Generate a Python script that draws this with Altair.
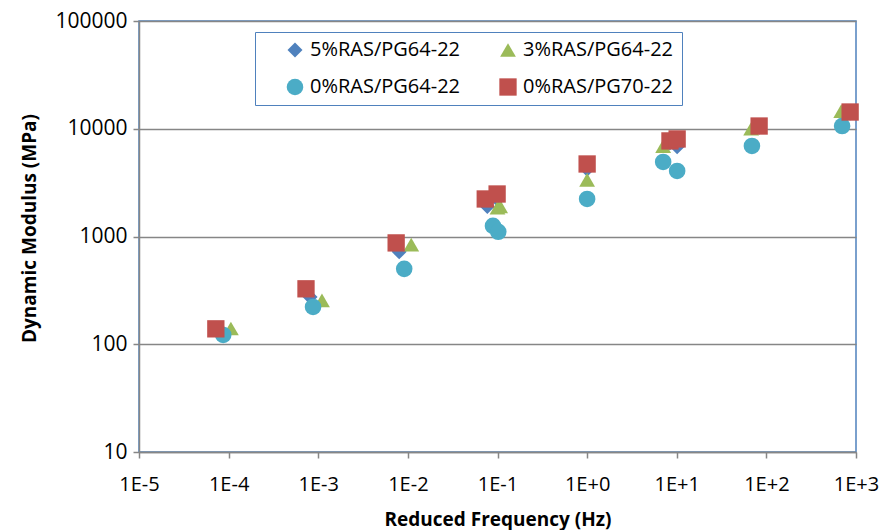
import altair as alt
import pandas as pd

series_names = ["5%RAS/PG64-22", "3%RAS/PG64-22", "0%RAS/PG64-22", "0%RAS/PG70-22"]
series_colors = ["#4F81BD", "#9BBB59", "#4BACC6", "#C0504D"]
series_shapes = ["diamond", "triangle-up", "circle", "square"]
series_sizes = [225, 300, 196, 289]

# 5%RAS/PG64-22 (diamond)
freq_5ras = [8.3e-5, 8.1e-4, 8.0e-3, 0.077, 0.1, 1.0, 8.4, 10.1, 83, 860]
mod_5ras = [132, 275, 720, 1900, 2200, 4200, 7400, 6800, 10300, 14000]
# 3%RAS/PG64-22 (triangle)
freq_3ras = [1.06e-4, 1.1e-3, 1.09e-2, 0.1, 0.107, 1.0, 7.05, 9.5, 67.6, 684]
mod_3ras = [140, 255, 840, 1850, 1900, 3350, 6900, 7900, 10000, 14600]
# 0%RAS/PG64-22 (circle)
freq_0ras64 = [8.7e-5, 8.75e-4, 9.1e-3, 0.089, 0.102, 1.0, 7.05, 10.1, 69, 700]
mod_0ras64 = [122, 222, 501, 1254, 1105, 2230, 4920, 4060, 6920, 10600]
# 0%RAS/PG70-22 (square)
freq_0ras70 = [7.2e-5, 7.3e-4, 7.4e-3, 0.073, 0.099, 1.0, 8.4, 10.1, 83, 860]
mod_0ras70 = [139, 327, 872, 2230, 2480, 4710, 7710, 8040, 10600, 14300]

x_ticks = [1e-5, 1e-4, 1e-3, 1e-2, 1e-1, 1e0, 1e1, 1e2, 1e3]
y_ticks = [10, 100, 1000, 10000, 100000]

rows = []
for name, fs, ms in zip(series_names,
                        [freq_5ras, freq_3ras, freq_0ras64, freq_0ras70],
                        [mod_5ras, mod_3ras, mod_0ras64, mod_0ras70]):
    for f, m in zip(fs, ms):
        rows.append({"series": name, "freq": f, "modulus": m})
df = pd.DataFrame(rows)

FONT = "Open Sans"
GRAY = "#868686"
EXP = "round(log(datum.value)/LN10)"

chart = alt.Chart(df).mark_point(filled=True, opacity=1).encode(
    x=alt.X("freq:Q",
            scale=alt.Scale(type="log", domain=[1e-5, 1e3], nice=False),
            axis=alt.Axis(values=x_ticks,
                          labelExpr=f"'1E' + ({EXP} >= 0 ? '+' + {EXP} : '-' + abs({EXP}))",
                          grid=False, tickSize=6, labelPadding=16,
                          labelFontSize=20, labelFont=FONT, labelColor="black",
                          title="Reduced Frequency (Hz)", titleFont=FONT, titleFontSize=19,
                          titleFontWeight="bold", titleColor="black",
                          titleY=67, titleBaseline="middle",
                          domainColor=GRAY, domainWidth=1.5, tickColor=GRAY, tickWidth=1.5,
                          labelFlush=False, labelOverlap=False)),
    y=alt.Y("modulus:Q",
            scale=alt.Scale(type="log", domain=[10, 100000], nice=False),
            axis=alt.Axis(values=y_ticks, format="d",
                          grid=True, gridColor=GRAY, gridWidth=1.5,
                          tickSize=6, labelPadding=6,
                          labelFontSize=21, labelFont=FONT, labelColor="black",
                          title="Dynamic Modulus (MPa)", titleFont=FONT, titleFontSize=19,
                          titleFontWeight="bold", titleColor="black",
                          titleX=-110, titleY=207, titleBaseline="middle",
                          domainColor=GRAY, domainWidth=1.5, tickColor=GRAY, tickWidth=1.5,
                          labelOverlap=False)),
    color=alt.Color("series:N",
                    scale=alt.Scale(domain=series_names, range=series_colors),
                    legend=alt.Legend(title=None, orient="none", legendX=116, legendY=11,
                                      direction="horizontal",
                                      columns=2, columnPadding=15, rowPadding=17,
                                      symbolOffset=22, padding=8,
                                      labelFont=FONT, labelFontSize=20, labelColor="black",
                                      symbolSize=170, labelOffset=5,
                                      strokeColor="#4F81BD", fillColor="white")),
    shape=alt.Shape("series:N",
                    scale=alt.Scale(domain=series_names, range=series_shapes)),
    size=alt.Size("series:N",
                  scale=alt.Scale(domain=series_names, range=series_sizes),
                  legend=None),
).properties(
    width=717, height=431,
    autosize=alt.AutoSizeParams(type="none"),
    padding={"left": 131, "top": 13, "right": 25, "bottom": 78},
).configure_view(
    stroke="#4F81BD", strokeWidth=1.5
)

chart.save("out.html", embed_options={"renderer": "svg", "actions": False})
